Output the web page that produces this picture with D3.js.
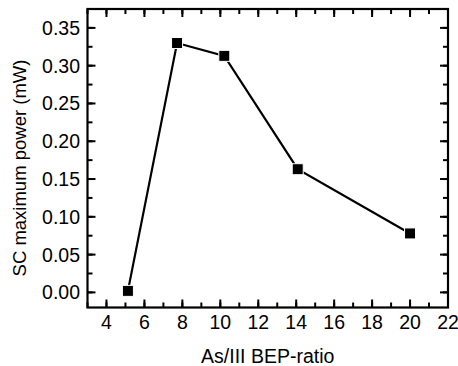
<!DOCTYPE html>
<html><head><meta charset="utf-8">
<script src="https://cdn.jsdelivr.net/npm/d3@7"></script>
<style>body{margin:0;background:#fff}svg{display:block}text{font-family:"Liberation Sans",Arial,sans-serif;fill:#000}</style>
</head><body><svg id="c" width="458" height="366"></svg>
<script>
const ratio = [5.13, 7.72, 10.21, 14.08, 20.0];
const power = [0.002, 0.330, 0.313, 0.163, 0.078];
const xTicks = [4,6,8,10,12,14,16,18,20,22];
const yTicks = [0,0.05,0.10,0.15,0.20,0.25,0.30,0.35];

const svg = d3.select("#c");
const L=87.5, R=448, T=9, B=307.5;
const x = d3.scaleLinear().domain([3,22]).range([L,R]);
const y = d3.scaleLinear().domain([-0.02,0.375]).range([B,T]);
const xMinor = d3.range(3,23,1);
const yMinor = d3.range(-0.0,0.376,0.025);

const g = svg.append("g");
function ticksX(vals, len, yy, dir){
  g.selectAll(null).data(vals).enter().append("line")
   .attr("x1",d=>x(d)).attr("x2",d=>x(d)).attr("y1",yy).attr("y2",yy+dir*len)
   .attr("stroke","#000").attr("stroke-width",2);
}
function ticksY(vals, len, xx, dir){
  g.selectAll(null).data(vals).enter().append("line")
   .attr("y1",d=>y(d)).attr("y2",d=>y(d)).attr("x1",xx).attr("x2",xx+dir*len)
   .attr("stroke","#000").attr("stroke-width",2);
}
ticksX(xMinor,5,B,-1); ticksX(xTicks,8,B,-1);
ticksX(xMinor,5,T,1); ticksX(xTicks,8,T,1);
ticksY(yMinor,5,L,1); ticksY(yTicks,8,L,1);
ticksY(yMinor,5,R,-1); ticksY(yTicks,8,R,-1);
g.append("rect").attr("x",L).attr("y",T).attr("width",R-L).attr("height",B-T)
 .attr("fill","none").attr("stroke","#000").attr("stroke-width",2.2);

g.selectAll(null).data(xTicks).enter().append("text")
 .attr("x",d=>x(d)).attr("y",329).attr("text-anchor","middle")
 .attr("font-size",19.5).text(d=>d);
g.selectAll(null).data(yTicks).enter().append("text")
 .attr("x",80).attr("y",d=>y(d)+7).attr("text-anchor","end")
 .attr("font-size",19.5).text(d=>d3.format(".2f")(d));

svg.append("text").attr("x",(L+R)/2).attr("y",363).attr("text-anchor","middle")
 .attr("font-size",19.5).text("As/III BEP-ratio");
svg.append("text").attr("transform","translate(26,168) rotate(-90)").attr("text-anchor","middle")
 .attr("font-size",18.5).text("SC maximum power (mW)");

const pts = ratio.map((r,i)=>[r,power[i]]);
svg.append("path").datum(pts)
 .attr("d",d3.line().x(d=>x(d[0])).y(d=>y(d[1])))
 .attr("fill","none").attr("stroke","#000").attr("stroke-width",2.2);
svg.selectAll(null).data(pts).enter().append("rect")
 .attr("x",d=>x(d[0])-5.5).attr("y",d=>y(d[1])-5.5).attr("width",11).attr("height",11)
 .attr("fill","#000").attr("stroke","#fff").attr("stroke-width",1);
</script></body></html>
